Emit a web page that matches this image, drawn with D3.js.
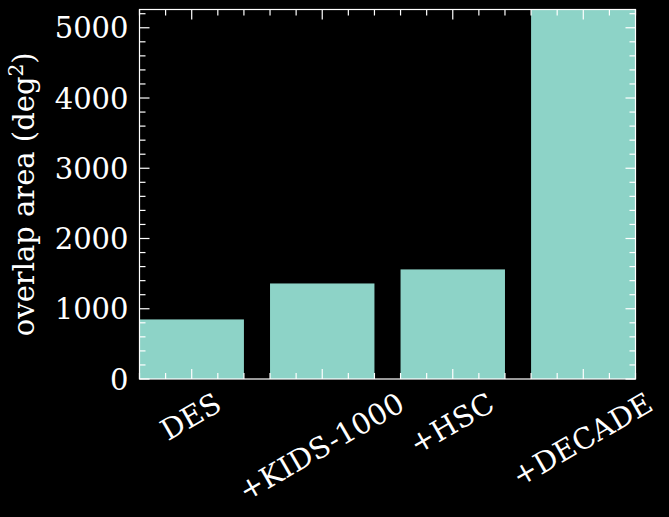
<!DOCTYPE html>
<html>
<head>
<meta charset="utf-8">
<script src="https://cdn.jsdelivr.net/npm/d3@7"></script>
<style>
  body { margin: 0; background: #000; }
  text { font-family: "DejaVu Serif", serif; fill: #fff; }
</style>
</head>
<body>
<script>
// survey combinations and their overlap area
var surveys = ['DES', '+KIDS-1000', '+HSC', '+DECADE'];
var overlapArea = [848, 1360, 1560, 5260];
var yTicks = [0, 1000, 2000, 3000, 4000, 5000];

var width = 669,
    height = 517,
    plotLeft = 139.5, plotRight = 635.5, plotTop = 9.5, plotBottom = 379,
    fontSize = 29,
    majorLen = 10, minorLen = 6,
    barColor = '#8dd3c7';

var svg = d3.select('body').append('svg')
    .attr('width', width)
    .attr('height', height)
    .style('background', '#000');

var x = d3.scaleLinear().domain([-0.4, surveys.length - 0.6]).range([plotLeft, plotRight]);
var y = d3.scaleLinear().domain([0, 5260]).range([plotBottom, plotTop]);

// bars
svg.selectAll('rect.bar')
    .data(overlapArea)
  .enter().append('rect')
    .attr('class', 'bar')
    .attr('x', function(d, i){ return x(i - 0.4); })
    .attr('width', function(d, i){ return x(i + 0.4) - x(i - 0.4); })
    .attr('y', function(d){ return y(d); })
    .attr('height', function(d){ return y(0) - y(d); })
    .attr('fill', barColor);

// minor tick positions
var xMinor = d3.range(-0.4, surveys.length - 0.5, 0.2)
    .filter(function(v){ return Math.abs(v - Math.round(v)) > 0.01; });
var yMinor = d3.range(200, 5260, 200).filter(function(v){ return v % 1000 !== 0; });

var ticks = svg.append('g').attr('stroke', '#fff').attr('stroke-width', 1.2);

function xTick(v, len){
  ticks.append('line').attr('x1', x(v)).attr('x2', x(v)).attr('y1', plotBottom).attr('y2', plotBottom - len);
  ticks.append('line').attr('x1', x(v)).attr('x2', x(v)).attr('y1', plotTop).attr('y2', plotTop + len);
}
function yTick(v, len){
  ticks.append('line').attr('y1', y(v)).attr('y2', y(v)).attr('x1', plotLeft).attr('x2', plotLeft + len);
  ticks.append('line').attr('y1', y(v)).attr('y2', y(v)).attr('x1', plotRight).attr('x2', plotRight - len);
}
surveys.forEach(function(d, i){ xTick(i, majorLen); });
xMinor.forEach(function(v){ xTick(v, minorLen); });
yTicks.forEach(function(v){ yTick(v, majorLen); });
yMinor.forEach(function(v){ yTick(v, minorLen); });

// frame
svg.append('rect')
    .attr('x', plotLeft).attr('y', plotTop)
    .attr('width', plotRight - plotLeft).attr('height', plotBottom - plotTop)
    .attr('fill', 'none').attr('stroke', '#fff').attr('stroke-width', 1.2);

// y tick labels
svg.selectAll('text.ylab')
    .data(yTicks)
  .enter().append('text')
    .attr('class', 'ylab')
    .attr('x', plotLeft - 11)
    .attr('y', function(d){ return y(d) + 10.5; })
    .attr('text-anchor', 'end')
    .style('font-size', fontSize + 'px')
    .text(function(d){ return d; });

// x tick labels, rotated 30 deg, bbox centred under tick
var sin = Math.sin(Math.PI / 6), cos = Math.cos(Math.PI / 6), h = fontSize * 1.0;
svg.selectAll('text.xlab')
    .data(surveys)
  .enter().append('text')
    .attr('class', 'xlab')
    .attr('text-anchor', 'middle')
    .attr('dominant-baseline', 'central')
    .style('font-size', fontSize + 'px')
    .text(function(d){ return d; })
    .each(function(d, i){
      var w = this.getComputedTextLength();
      var cy = 388 + (w * sin + h * cos) / 2;
      d3.select(this).attr('transform', 'translate(' + (x(i) - 1) + ',' + cy + ') rotate(-30)');
    });

// y axis label
var ylab = svg.append('text')
    .attr('transform', 'translate(34,' + ((plotTop + plotBottom) / 2) + ') rotate(-90)')
    .attr('text-anchor', 'middle')
    .style('font-size', fontSize + 'px');
ylab.append('tspan').text('overlap area (deg');
ylab.append('tspan').attr('dy', -11).style('font-size', (fontSize * 0.7) + 'px').text('2');
ylab.append('tspan').attr('dy', 11).text(')');
</script>
</body>
</html>
